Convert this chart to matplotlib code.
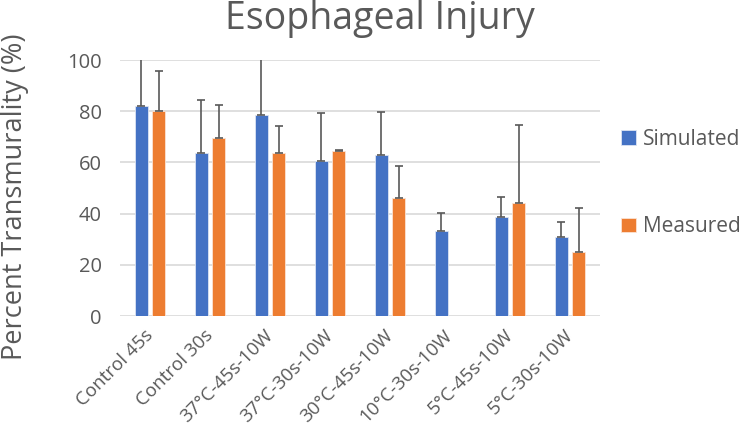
import numpy as np
import matplotlib.pyplot as plt

# data
categories = ['Control 45s', 'Control 30s', '37°C-45s-10W', '37°C-30s-10W',
              '30°C-45s-10W', '10°C-30s-10W', '5°C-45s-10W', '5°C-30s-10W']
simulated = [82.2, 63.7, 78.6, 60.4, 62.8, 33.3, 38.7, 30.9]
simulated_err = [20.0, 20.8, 22.0, 19.0, 17.0, 7.1, 7.8, 5.8]
measured = [80.0, 69.5, 63.8, 64.4, 46.0, np.nan, 44.3, 25.0]
measured_err = [15.6, 12.8, 10.4, 0.3, 12.5, np.nan, 30.4, 17.2]

blue = '#4472C4'
orange = '#ED7D31'
grey = '#595959'

plt.rcParams['font.family'] = ['Open Sans', 'DejaVu Sans']

fig = plt.figure(figsize=(7.5, 4.32), dpi=100)
ax = fig.add_axes([0.16, 0.2685, 0.64, 0.5925])

x = np.arange(len(categories))
w = 0.225
off = 0.142

ax.bar(x - off, simulated, w, color=blue, edgecolor='#dce4f2', linewidth=0.6,
       label='Simulated', zorder=2)
ax.bar(x + off, measured, w, color=orange, edgecolor='#fbe3d3', linewidth=0.6,
       label='Measured', zorder=2)

ax.errorbar(x - off, simulated, yerr=[np.zeros(len(x)), simulated_err], fmt='none',
            ecolor=grey, elinewidth=1.2, capsize=2.8, capthick=1.2, zorder=3)
ax.errorbar(x + off, measured, yerr=[np.zeros(len(x)), measured_err], fmt='none',
            ecolor=grey, elinewidth=1.2, capsize=2.8, capthick=1.2, zorder=3)

ax.set_xlim(-0.5, len(categories) - 0.5)
ax.set_ylim(0, 100)
ax.set_yticks(range(0, 101, 20))
ax.yaxis.grid(True, color='#D9D9D9', linewidth=1.2, zorder=0)
ax.set_axisbelow(True)
for s in ax.spines.values():
    s.set_visible(False)
ax.tick_params(length=0, colors=grey)
ax.tick_params(axis='y', pad=13, labelsize=14.5)
ax.tick_params(axis='x', pad=12, labelsize=13.5)
ax.set_xticks(x)
ax.set_xticklabels(categories, rotation=45, ha='right', va='center',
                   rotation_mode='anchor')

fig.text(0.507, 0.955, 'Esophageal Injury', fontsize=27, color=grey,
         ha='center', va='center')
fig.text(0.02, 0.544, 'Percent Transmurality (%)', fontsize=19.5, color=grey,
         ha='center', va='center', rotation=90)

leg = ax.legend(loc='center left', bbox_to_anchor=(1.005, 0.52), frameon=False,
                fontsize=15, labelspacing=3.2, handlelength=0.7, handleheight=0.7,
                handletextpad=0.35)
for t in leg.get_texts():
    t.set_color(grey)

fig.savefig('out.png', dpi=100)
